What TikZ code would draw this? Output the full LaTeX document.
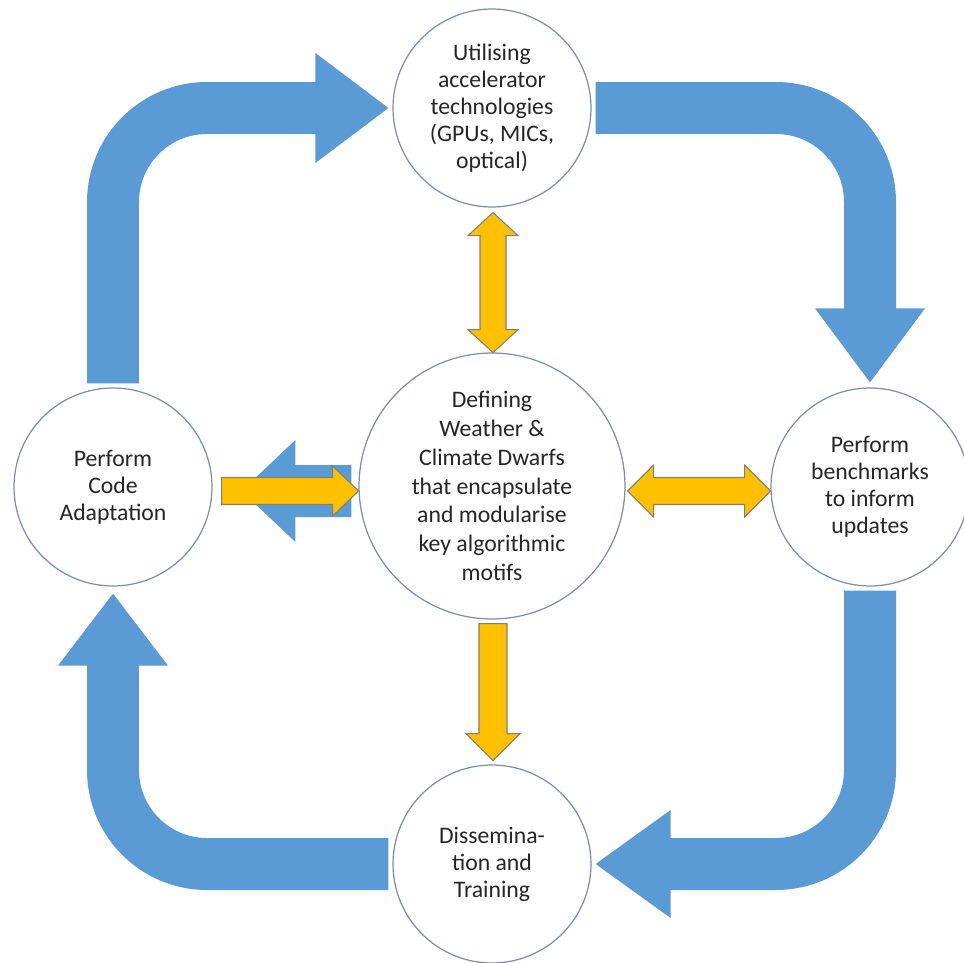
\documentclass[tikz,border=0pt]{standalone}
\usepackage{fontspec}
\setmainfont{Carlito}
\usetikzlibrary{calc}

\definecolor{cycleblue}{RGB}{91,155,213}
\definecolor{linkgold}{RGB}{255,192,0}
\definecolor{goldedge}{RGB}{128,128,118}
\definecolor{ringedge}{RGB}{125,140,175}
\definecolor{inktext}{RGB}{38,38,38}

\tikzset{
  % one unit = one pixel, y grows downwards
  x=0.02cm, y=-0.02cm,
  stage/.style={circle, draw=ringedge, line width=0.7pt, fill=white,
    minimum size=3.96cm, inner sep=0pt, align=center, text=inktext,
    font=\fontsize{13.5pt}{15.3pt}\selectfont},
  hub/.style={stage, minimum size=5.32cm,
    font=\fontsize{13.5pt}{16.4pt}\selectfont},
  band/.style={draw=cycleblue, line width=1.04cm, rounded corners=1.88cm},
  bandhead/.style={fill=cycleblue},
  yarrow/.style={fill=linkgold, draw=goldedge, line width=0.6pt, line join=miter},
  % double-headed horizontal arrow: length, head length, head half width, shaft half width
  pics/dblh/.style n args={4}{code={
    \draw[yarrow] (0,0) -- (#2,-#3) -- (#2,-#4) -- ({#1-#2},-#4) -- ({#1-#2},-#3)
      -- (#1,0) -- ({#1-#2},#3) -- ({#1-#2},#4) -- (#2,#4) -- (#2,#3) -- cycle;}},
  % double-headed vertical arrow
  pics/dblv/.style n args={4}{code={
    \draw[yarrow] (0,0) -- (-#3,#2) -- (-#4,#2) -- (-#4,{#1-#2}) -- (-#3,{#1-#2})
      -- (0,#1) -- (#3,{#1-#2}) -- (#4,{#1-#2}) -- (#4,#2) -- (#3,#2) -- cycle;}},
  % single arrow pointing right
  pics/oneright/.style n args={4}{code={
    \draw[yarrow] (0,-#4) -- ({#1-#2},-#4) -- ({#1-#2},-#3) -- (#1,0)
      -- ({#1-#2},#3) -- ({#1-#2},#4) -- (0,#4) -- cycle;}},
  % single arrow pointing down
  pics/onedown/.style n args={4}{code={
    \draw[yarrow] (-#4,0) -- (-#4,{#1-#2}) -- (-#3,{#1-#2}) -- (0,#1)
      -- (#3,{#1-#2}) -- (#4,{#1-#2}) -- (#4,0) -- cycle;}},
  % short blue arrow pointing left
  pics/oneleft/.style n args={4}{code={
    \fill[cycleblue] (0,-#4) -- ({#2-#1},-#4) -- ({#2-#1},-#3) -- (-#1,0)
      -- ({#2-#1},#3) -- ({#2-#1},#4) -- (0,#4) -- cycle;}},
}

\begin{document}
\begin{tikzpicture}
\useasboundingbox (0,0) rectangle (964,963);

% stages of the cycle and the central hub
\node[stage] (top) at (492,108) {Utilising\\accelerator\\technologies\\(GPUs, MICs,\\optical)};
\node[hub] (core) at (492,486) {Defining\\Weather \&\\Climate Dwarfs\\that encapsulate\\and modularise\\key algorithmic\\motifs};
\node[stage] (left) at (113,487) {Perform\\Code\\Adaptation};
\node[stage] (right) at (870,487) {Perform\\benchmarks\\to inform\\updates};
\node[stage] (bottom) at (492,864) {Dissemina-\\tion and\\Training};

% outer cycle of broad blue arrows
\draw[band] ($(left.north)+(0,-4)$) |- ($(top.west)+(-75,0)$);
\fill[bandhead] ($(top.west)+(-77,-55)$) -- ($(top.west)+(-4,0)$) -- ($(top.west)+(-77,55)$) -- cycle;

\draw[band] ($(top.east)+(4,0)$) -| ($(right.north)+(0,-77)$);
\fill[bandhead] ($(right.north)+(-55,-79)$) -- ($(right.north)+(0,-5)$) -- ($(right.north)+(55,-79)$) -- cycle;

\draw[band] ($(right.south)+(0,4)$) |- ($(bottom.east)+(77,0)$);
\fill[bandhead] ($(bottom.east)+(79,-54)$) -- ($(bottom.east)+(4,0)$) -- ($(bottom.east)+(79,54)$) -- cycle;

\draw[band] ($(bottom.west)+(-4,0)$) -| ($(left.south)+(0,77)$);
\fill[bandhead] ($(left.south)+(-55,79)$) -- ($(left.south)+(0,7)$) -- ($(left.south)+(55,79)$) -- cycle;

% links between the hub and the stages
\path ($(top.south)+(1,5)$) pic {dblv={140}{23}{25}{13}};
\path ($(core.east)+(2,5)$) pic {dblh={143}{26}{26}{13.5}};
\path ($(core.south)+(1,4)$) pic {onedown={137}{27}{27}{14}};
\path ($(core.west)+(-7,5)$) pic {oneleft={110}{54}{51}{26}};
\path ($(left.east)+(9,4)$) pic {oneright={137}{26}{25}{13.5}};
\end{tikzpicture}
\end{document}
